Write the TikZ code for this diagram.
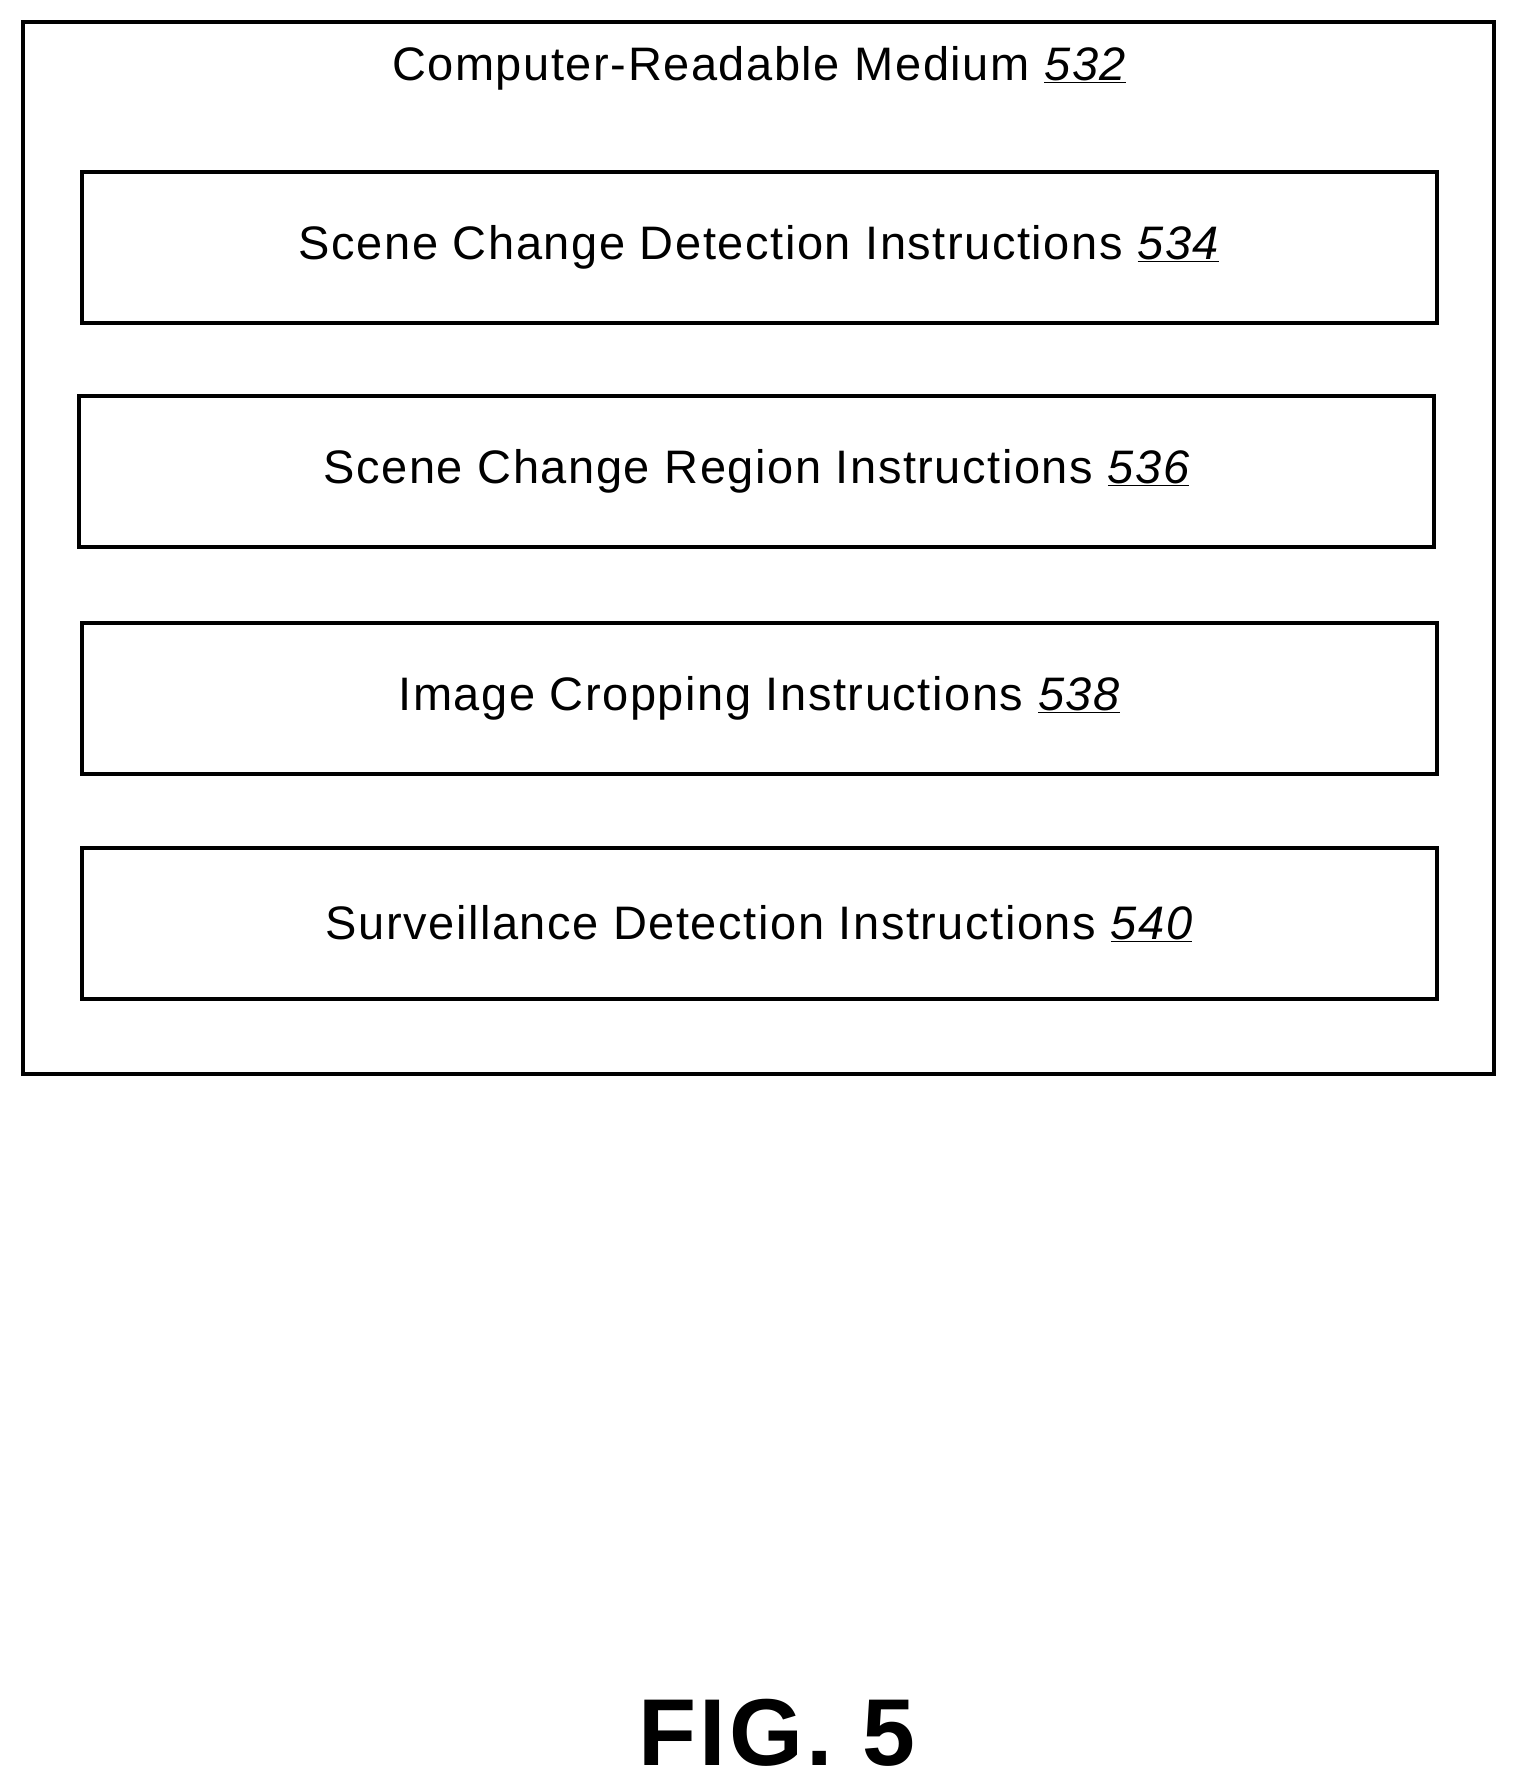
\documentclass[tikz,border=0pt]{standalone}
\usepackage{fontspec}
\setmainfont[LetterSpace=3.3]{Liberation Sans}
\usetikzlibrary{positioning}

\begin{document}
\begin{tikzpicture}
    [
        x=1pt, y=-1pt,
        outer_box/.style={draw=black, line width=4pt, minimum width=1471pt, minimum height=1052pt, inner sep=0pt},
        instr_box/.style={draw=black, line width=4pt, minimum width=1355pt, minimum height=151pt, inner sep=0pt, font=\fontsize{47}{56}\selectfont},
        title_text/.style={font=\fontsize{47}{56}\selectfont, inner sep=0pt},
    ]
        \useasboundingbox (0,0) rectangle (1516,1784) ;
        \node[outer_box] (crm) at (758,548) {} ;
        \node[title_text] (crmlabel) at (759,68) {Computer-Readable Medium \underline{\itshape 532}} ;
        \node[instr_box] (scd) at (759,247.5) {Scene Change Detection Instructions \underline{\itshape 534}} ;
        \node[instr_box] (scr) [below = 69pt of scd.south, anchor=north, xshift=-2.5pt] {Scene Change Region Instructions \underline{\itshape 536}} ;
        \node[instr_box] (crop) at (759,698.5) {Image Cropping Instructions \underline{\itshape 538}} ;
        \node[instr_box] (surv) [below = 70pt of crop.south, anchor=north] {Surveillance Detection Instructions \underline{\itshape 540}} ;
        \node[font=\fontsize{95}{110}\selectfont\bfseries, inner sep=0pt] (fig) at (777,1733) {FIG. 5} ;
\end{tikzpicture}
\end{document}
